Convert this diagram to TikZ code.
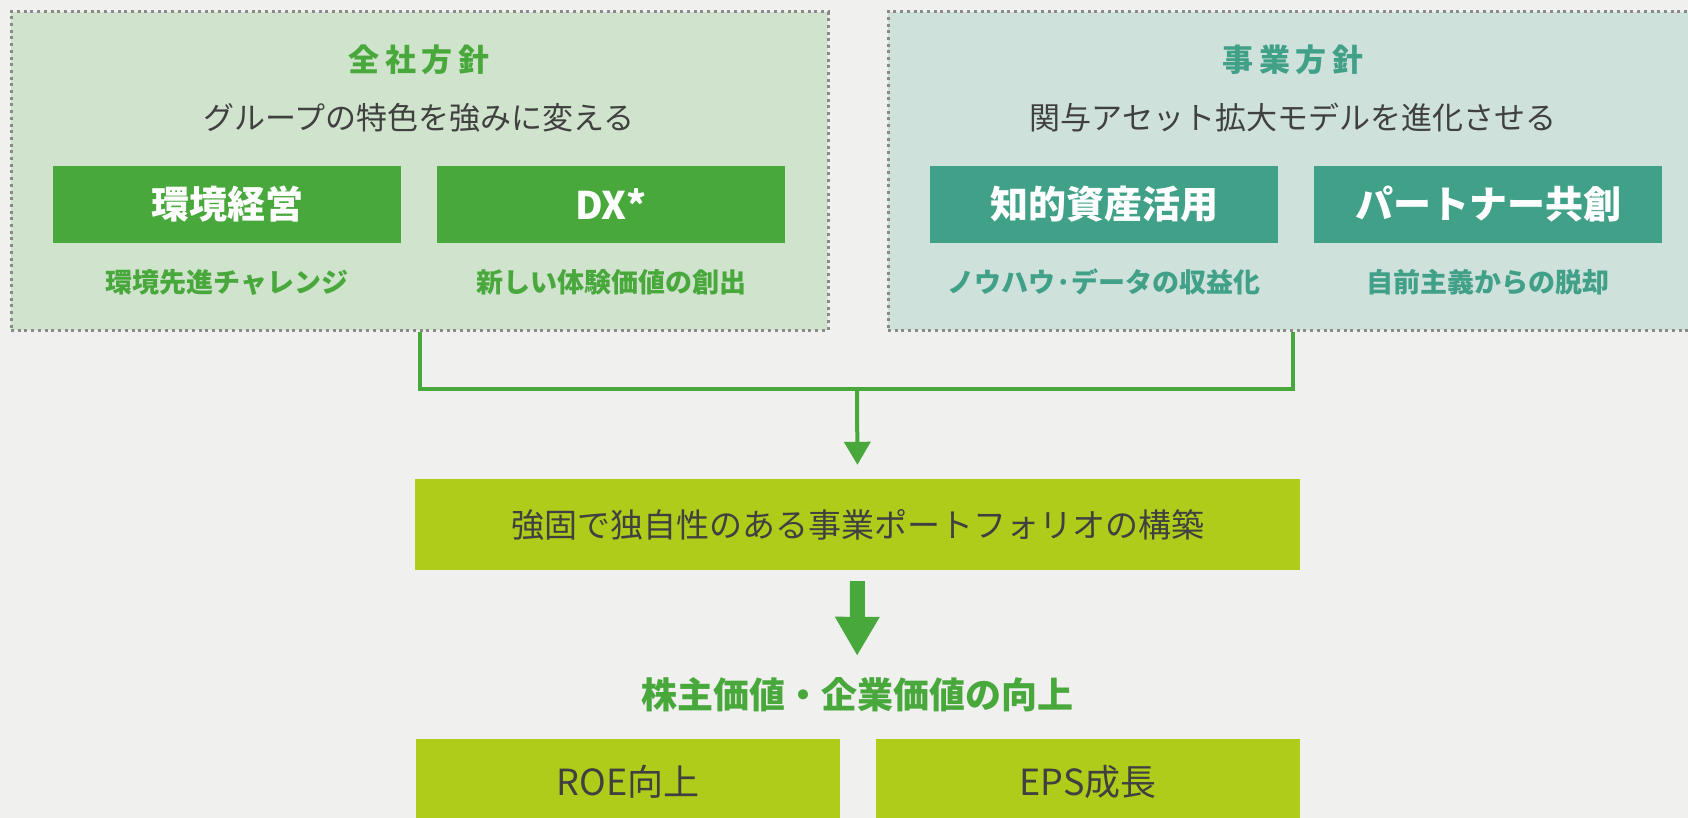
\documentclass[tikz,border=0pt]{standalone}
\usepackage{fontspec}
\setmainfont{Noto Sans CJK JP}
\usetikzlibrary{arrows.meta,positioning}

\definecolor{bgfill}{HTML}{F0F0EE}
\definecolor{corpfill}{HTML}{D0E3CD}
\definecolor{bizfill}{HTML}{CFE1DB}
\definecolor{dotgray}{HTML}{8A8A8A}
\definecolor{leafgreen}{HTML}{48A83C}
\definecolor{tealgreen}{HTML}{40A088}
\definecolor{limegreen}{HTML}{B0CC1A}
\definecolor{inkgray}{HTML}{404040}

\newcommand{\ls}{\hspace{5.5pt}}

\tikzset{
	panel/.style={draw=dotgray, line width=3pt, dash pattern=on 3pt off 3.7pt,
		inner sep=0pt, minimum height=318pt},
	headline/.style={text=#1, font=\fontsize{31}{36}\selectfont\bfseries},
	motto/.style={text=inkgray, font=\fontsize{31}{36}\selectfont},
	keybox/.style={fill=#1, text=white, minimum width=348pt, minimum height=77pt,
		inner sep=0pt, font=\fontsize{38}{44}\selectfont\bfseries},
	keynote/.style={text=#1, font=\fontsize{27}{32}\selectfont\bfseries},
	limebox/.style={fill=limegreen, text=inkgray, inner sep=0pt},
	link/.style={draw=leafgreen, line width=4pt},
	bigarrow/.style={draw=leafgreen, line width=15pt,
		-{Triangle[length=39pt,width=42pt]}}
}

\begin{document}
\begin{tikzpicture}[x=1pt,y=-1pt]
		\useasboundingbox[fill=bgfill] (0,0) rectangle (1688,818);
		
		% two policy panels
		\node[panel, fill=corpfill, minimum width=817pt] (corp) at (419.5,171) {};
		\node[panel, fill=bizfill, minimum width=810pt] (biz) at (1293,171) {};
		
		\node[headline=leafgreen] (corptitle) at (419,60) {全\ls 社\ls 方\ls 針};
		\node[motto] (corpmotto) at (419,118) {グループの特色を強みに変える};
		\node[keybox=leafgreen] (env) at (227,204.5) {環境経営};
		\node[keybox=leafgreen] (dx) at (611,204.5) {DX*};
		\node[keynote=leafgreen] (envnote) at (227,282) {環境先進チャレンジ};
		\node[keynote=leafgreen] (dxnote) at (611,282) {新しい体験価値の創出};
		
		\node[headline=tealgreen] (biztitle) at (1293,60) {事\ls 業\ls 方\ls 針};
		\node[motto] (bizmotto) at (1293,118) {関与アセット拡大モデルを進化させる};
		\node[keybox=tealgreen] (ip) at (1104,204.5) {知的資産活用};
		\node[keybox=tealgreen] (partner) at (1488,204.5) {パートナー共創};
		\node[keynote=tealgreen] (ipnote) at (1104,282) {ノウハウ·データの収益化};
		\node[keynote=tealgreen] (partnernote) at (1488,282) {自前主義からの脱却};
		
		% portfolio and value
		\node[limebox, minimum width=885pt, minimum height=91pt,
			font=\fontsize{33}{38}\selectfont] (core) at (857.5,524.5)
			{強固で独自性のある事業ポートフォリオの構築};
		\node[text=leafgreen, inner sep=0pt, text height=27pt, text depth=7pt,
			font=\fontsize{36}{40}\selectfont\bfseries] (gain) at (857,698)
			{株主価値・企業価値の向上};
		\node[limebox, minimum width=424pt, minimum height=86pt,
			font=\fontsize{36}{40}\selectfont] (roe) at (628,782) {ROE向上};
		\node[limebox, minimum width=424pt, minimum height=86pt,
			font=\fontsize{36}{40}\selectfont] (eps) at (1088,782) {EPS成長};
		
		\coordinate (join) at (857,389);
		\draw[link] (corp.south) |- (join) -| (biz.south);
		\draw[link, -{Triangle[length=23pt,width=26pt]}, shorten >=14pt] (join) -- (core.north);
		\draw[bigarrow, shorten <=11pt, shorten >=25pt] (core.south) -- (gain.north);
\end{tikzpicture}
\end{document}
